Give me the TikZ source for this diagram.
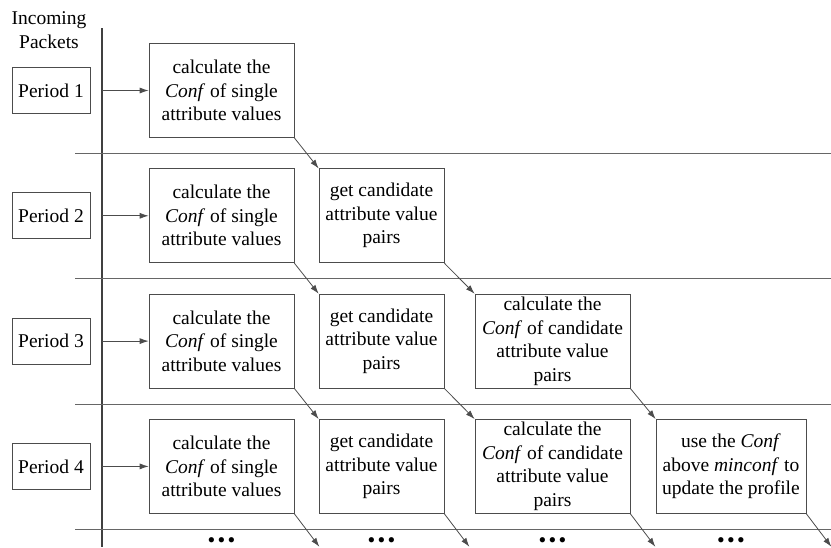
\documentclass[tikz,border=0pt]{standalone}
\usepackage{fontspec}
\setmainfont{Liberation Serif}
\usetikzlibrary{arrows,arrows.meta,positioning}

\tikzset{
  schritt/.style={draw=black!70, line width=0.7pt, minimum height=94pt, align=center, inner sep=0pt, font=\fontsize{19.5}{23.5}\selectfont},
  periode/.style={draw=black!70, line width=0.7pt, minimum width=78pt, minimum height=46pt, inner sep=0pt, font=\fontsize{19.5}{23.5}\selectfont},
  pfeil/.style={draw=black!70, line width=0.8pt, -{Latex[length=9pt,width=6pt]}},
  trenner/.style={draw=black!60, line width=1.2pt},
  punkte/.style={font=\fontsize{22}{22}\selectfont, inner sep=0pt, text height=8pt, text depth=0pt, anchor=base}
}

\begin{document}
\begin{tikzpicture}[x=1pt,y=-1pt]
  \useasboundingbox (0,0) rectangle (831,547);
%Texte der vier Schritte
  \def\txtI{calculate the\\ \textit{Conf} of single\\ attribute values}
  \def\txtII{get candidate\\ attribute value\\ pairs}
  \def\txtIII{calculate the\\ \textit{Conf} of candidate\\ attribute value\\ pairs}
  \def\txtIV{use the \textit{Conf}\\ above \textit{minconf} to\\ update the profile}
  \node[align=center, font=\fontsize{19.5}{24}\selectfont] (kopf) at (49,30) {Incoming\\ Packets};
  \coordinate (zeitoben) at (102,28);
  \coordinate (zeitunten) at (102,547);
  \draw[black!75, line width=2.6pt] (zeitoben) -- (zeitunten);
%Trennlinien und Perioden
\foreach \r in {1,...,4}{
  \pgfmathsetmacro{\y}{90.5+125.3*(\r-1)}
  \pgfmathsetmacro{\yl}{153.5+125.3*(\r-1)}
  \coordinate (la\r) at (75,\yl);
  \coordinate (lb\r) at (831,\yl);
  \draw[trenner] (la\r) -- (lb\r);
  \node[periode] (p\r) at (51,\y) {Period \r};
  \coordinate (s\r) at (102,\y);
}
%Schritte
\foreach \s/\xm/\w/\t in {1/221.5/145/\txtI,2/381.5/125/\txtII,3/552.5/155/\txtIII,4/731/150/\txtIV}{
  \foreach \r in {\s,...,4}{
    \pgfmathsetmacro{\y}{90.5+125.3*(\r-1)}
    \node[schritt, minimum width=\w pt] (c\r\s) at (\xm,\y) {\t};
  }
  \node[punkte] (d\s) at (\xm,547) {\textbullet\hspace{2.3pt}\textbullet\hspace{2.3pt}\textbullet};
}
\foreach \r in {1,...,4}{
  \draw[pfeil] (s\r) -- (c\r1.west);
}
%Diagonale Pfeile
\foreach \r in {1,...,3}{
  \pgfmathtruncatemacro\rn{\r+1}
  \foreach \s in {1,...,\r}{
    \pgfmathtruncatemacro\sn{\s+1}
    \draw[pfeil] (c\r\s.south east) -- (c\rn\sn.north west);
  }
}
\foreach \s in {1,...,4}{
  \path (c4\s.south east) ++(25,33) coordinate (e\s);
  \draw[pfeil] (c4\s.south east) -- (e\s);
}
\end{tikzpicture}
\end{document}
